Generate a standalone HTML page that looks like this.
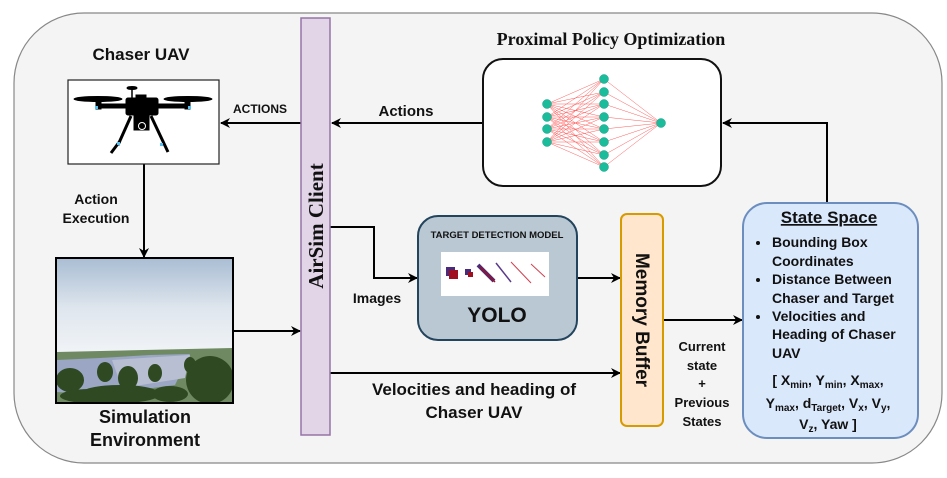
<!DOCTYPE html>
<html><head><meta charset="utf-8"><style>
html,body{margin:0;padding:0;background:#fff;}
svg{display:block;}
.s{font-family:"Liberation Sans",sans-serif;font-weight:bold;fill:#111;}
.r{font-family:"Liberation Serif",serif;font-weight:bold;fill:#111;}
</style></head><body>
<svg width="947" height="478" viewBox="0 0 947 478" xmlns="http://www.w3.org/2000/svg">
<defs>
<marker id="a" markerWidth="10" markerHeight="10" refX="9" refY="5" orient="auto" markerUnits="userSpaceOnUse">
<path d="M0,0 L10,5 L0,10 L3,5 Z" fill="#000"/></marker>
<linearGradient id="sky" x1="0" y1="0" x2="0" y2="1">
<stop offset="0" stop-color="#a9bdd3"/><stop offset="0.35" stop-color="#dfe6ee"/><stop offset="0.65" stop-color="#f0f3f6"/><stop offset="1" stop-color="#e8eef2"/></linearGradient>
</defs>
<rect x="14" y="13" width="928" height="450" rx="70" fill="#f4f4f4" stroke="#888" stroke-width="1.2"/>

<line x1="301" y1="123" x2="221" y2="123" stroke="#000" stroke-width="2" marker-end="url(#a)"/>
<line x1="483" y1="123" x2="332" y2="123" stroke="#000" stroke-width="2" marker-end="url(#a)"/>
<line x1="144" y1="164" x2="144" y2="257" stroke="#000" stroke-width="2" marker-end="url(#a)"/>
<line x1="233" y1="331" x2="300" y2="331" stroke="#000" stroke-width="2" marker-end="url(#a)"/>
<polyline points="330,227 374,227 374,278 417,278" fill="none" stroke="#000" stroke-width="2" marker-end="url(#a)"/>
<line x1="330" y1="373" x2="620" y2="373" stroke="#000" stroke-width="2" marker-end="url(#a)"/>
<line x1="577" y1="278" x2="620" y2="278" stroke="#000" stroke-width="2" marker-end="url(#a)"/>
<line x1="663" y1="320" x2="742" y2="320" stroke="#000" stroke-width="2" marker-end="url(#a)"/>
<polyline points="827,203 827,123 723,123" fill="none" stroke="#000" stroke-width="2" marker-end="url(#a)"/>

<rect x="68" y="80" width="151" height="84" fill="#fff" stroke="#222" stroke-width="1.2"/>
<g fill="#000" stroke="#000">
<ellipse cx="98" cy="99" rx="24" ry="2.5"/><ellipse cx="188" cy="99" rx="24" ry="2.5"/>
<rect x="96" y="101" width="5" height="8"/><rect x="185" y="101" width="5" height="8"/>
<rect x="100" y="104" width="86" height="4"/>
<rect x="126" y="98" width="32" height="17" rx="2"/>
<rect x="136" y="95" width="10" height="5"/>
<line x1="132" y1="89" x2="132" y2="98" stroke-width="1.5"/>
<ellipse cx="132" cy="88" rx="5" ry="1.5"/>
<rect x="134" y="115" width="15" height="15"/>
<line x1="131" y1="116" x2="118" y2="145" stroke-width="3"/>
<line x1="120" y1="141" x2="111" y2="153" stroke-width="3"/>
<line x1="151" y1="116" x2="168" y2="152" stroke-width="3"/>
</g>
<circle cx="142" cy="126" r="3.5" fill="none" stroke="#fff" stroke-width="1"/>
<g fill="#4fc3f7"><rect x="95" y="106" width="3" height="3"/><rect x="188" y="106" width="3" height="3"/><rect x="117" y="142" width="3" height="3"/><rect x="160" y="143" width="3" height="3"/></g>

<rect x="56" y="258" width="177" height="145" fill="url(#sky)" stroke="#000" stroke-width="2"/>
<polygon points="57,352 232,348 232,402 57,402" fill="#6f8a63"/>
<polygon points="57,360 100,358 150,355 190,354 175,385 100,395 57,392" fill="#9aa6c4"/>
<polygon points="112,360 190,355 185,378 122,388" fill="#b9bfd2"/>
<g fill="#2f4a22">
<ellipse cx="70" cy="380" rx="14" ry="12"/><ellipse cx="105" cy="372" rx="8" ry="10"/><ellipse cx="128" cy="378" rx="10" ry="12"/>
<ellipse cx="155" cy="373" rx="7" ry="9"/><ellipse cx="120" cy="394" rx="40" ry="9"/><ellipse cx="210" cy="380" rx="24" ry="24"/>
<ellipse cx="170" cy="394" rx="18" ry="8"/><ellipse cx="90" cy="396" rx="30" ry="7"/><ellipse cx="190" cy="365" rx="6" ry="8"/>
</g>
<rect x="56" y="258" width="177" height="145" fill="none" stroke="#000" stroke-width="2"/>

<rect x="301" y="18" width="29" height="417" fill="#e1d5e7" stroke="#9673a6" stroke-width="1.5"/>
<text class="r" font-size="21" text-anchor="middle" transform="translate(323,226) rotate(-90)">AirSim Client</text>

<rect x="483" y="59" width="238" height="127" rx="20" fill="#fff" stroke="#111" stroke-width="2"/>
<g stroke="#f33" stroke-width="0.5" opacity="0.8" fill="none">
<path d="M547 104L604 79M547 104L604 92M547 104L604 104M547 104L604 117M547 104L604 129M547 104L604 142M547 104L604 155M547 104L604 167"/>
<path d="M547 117L604 79M547 117L604 92M547 117L604 104M547 117L604 117M547 117L604 129M547 117L604 142M547 117L604 155M547 117L604 167"/>
<path d="M547 129L604 79M547 129L604 92M547 129L604 104M547 129L604 117M547 129L604 129M547 129L604 142M547 129L604 155M547 129L604 167"/>
<path d="M547 142L604 79M547 142L604 92M547 142L604 104M547 142L604 117M547 142L604 129M547 142L604 142M547 142L604 155M547 142L604 167"/>
<path d="M661 123L604 79M661 123L604 92M661 123L604 104M661 123L604 117M661 123L604 129M661 123L604 142M661 123L604 155M661 123L604 167"/>
</g>
<g fill="#1abc9c" stroke="#16a085" stroke-width="0.5">
<circle cx="547" cy="104" r="4.5"/><circle cx="547" cy="117" r="4.5"/><circle cx="547" cy="129" r="4.5"/><circle cx="547" cy="142" r="4.5"/>
<circle cx="604" cy="79" r="4.5"/><circle cx="604" cy="92" r="4.5"/><circle cx="604" cy="104" r="4.5"/><circle cx="604" cy="117" r="4.5"/><circle cx="604" cy="129" r="4.5"/><circle cx="604" cy="142" r="4.5"/><circle cx="604" cy="155" r="4.5"/><circle cx="604" cy="167" r="4.5"/>
<circle cx="661" cy="123" r="4.5"/>
</g>
<text class="r" x="611" y="45" font-size="18" text-anchor="middle">Proximal Policy Optimization</text>

<rect x="418" y="216" width="159" height="124" rx="20" fill="#bac8d3" stroke="#23445d" stroke-width="2"/>
<rect x="441" y="252" width="108" height="44" fill="#fff"/>
<rect x="446" y="267" width="9" height="9" fill="#4a2a7a"/><rect x="449" y="270" width="9" height="9" fill="#a00f1f"/>
<rect x="465" y="269" width="6" height="6" fill="#4a2a7a"/><rect x="468" y="272" width="5" height="5" fill="#a00f1f"/>
<line x1="478" y1="265" x2="494" y2="281" stroke="#4a2a7a" stroke-width="4"/>
<line x1="480" y1="267" x2="495" y2="282" stroke="#a00f1f" stroke-width="1.5"/>
<line x1="496" y1="263" x2="511" y2="282" stroke="#5a3a8a" stroke-width="1.5"/>
<line x1="511" y1="262" x2="531" y2="283" stroke="#d04050" stroke-width="1"/>
<line x1="531" y1="264" x2="545" y2="277" stroke="#d04050" stroke-width="1"/>
<text class="s" x="497" y="238" font-size="9.5" text-anchor="middle">TARGET DETECTION MODEL</text>
<text class="s" x="497" y="322" font-size="21" text-anchor="middle">YOLO</text>

<rect x="621" y="214" width="42" height="212" rx="6" fill="#ffe6cc" stroke="#d79b00" stroke-width="2"/>
<text class="s" font-size="19" text-anchor="middle" transform="translate(636,320) rotate(90)">Memory Buffer</text>

<rect x="743" y="203" width="175" height="235" rx="24" fill="#dae8fc" stroke="#6c8ebf" stroke-width="2"/>
<text class="s" x="829" y="223" font-size="17" text-anchor="middle" text-decoration="underline">State Space</text>
<g class="s" font-size="14">
<circle cx="758" cy="243" r="2" fill="#111"/><circle cx="758" cy="280" r="2" fill="#111"/><circle cx="758" cy="317" r="2" fill="#111"/>
<text x="772" y="247">Bounding Box</text>
<text x="772" y="266">Coordinates</text>
<text x="772" y="284">Distance Between</text>
<text x="772" y="303">Chaser and Target</text>
<text x="772" y="321">Velocities and</text>
<text x="772" y="339">Heading of Chaser</text>
<text x="772" y="358">UAV</text>
</g>
<g class="s" font-size="14" text-anchor="middle">
<text x="828" y="385">[ X<tspan font-size="10" dy="3">min</tspan><tspan dy="-3">, Y</tspan><tspan font-size="10" dy="3">min</tspan><tspan dy="-3">, X</tspan><tspan font-size="10" dy="3">max</tspan><tspan dy="-3">,</tspan></text>
<text x="828" y="408">Y<tspan font-size="10" dy="3">max</tspan><tspan dy="-3">, d</tspan><tspan font-size="10" dy="3">Target</tspan><tspan dy="-3">, V</tspan><tspan font-size="10" dy="3">x</tspan><tspan dy="-3">, V</tspan><tspan font-size="10" dy="3">y</tspan><tspan dy="-3">,</tspan></text>
<text x="828" y="429">V<tspan font-size="10" dy="3">z</tspan><tspan dy="-3">, Yaw ]</tspan></text>
</g>

<g class="s" text-anchor="middle">
<text x="141" y="60" font-size="17">Chaser UAV</text>
<text x="96" y="204" font-size="14">Action</text>
<text x="96" y="223" font-size="14">Execution</text>
<text x="145" y="423" font-size="18">Simulation</text>
<text x="145" y="446" font-size="18">Environment</text>
<text x="260" y="113" font-size="12">ACTIONS</text>
<text x="406" y="116" font-size="15">Actions</text>
<text x="377" y="303" font-size="14">Images</text>
<text x="474" y="395" font-size="17">Velocities and heading of</text>
<text x="474" y="418" font-size="17">Chaser UAV</text>
<text x="702" y="351" font-size="13">Current</text>
<text x="702" y="370" font-size="13">state</text>
<text x="702" y="388" font-size="13">+</text>
<text x="702" y="407" font-size="13">Previous</text>
<text x="702" y="426" font-size="13">States</text>
</g>
</svg>
</body></html>
